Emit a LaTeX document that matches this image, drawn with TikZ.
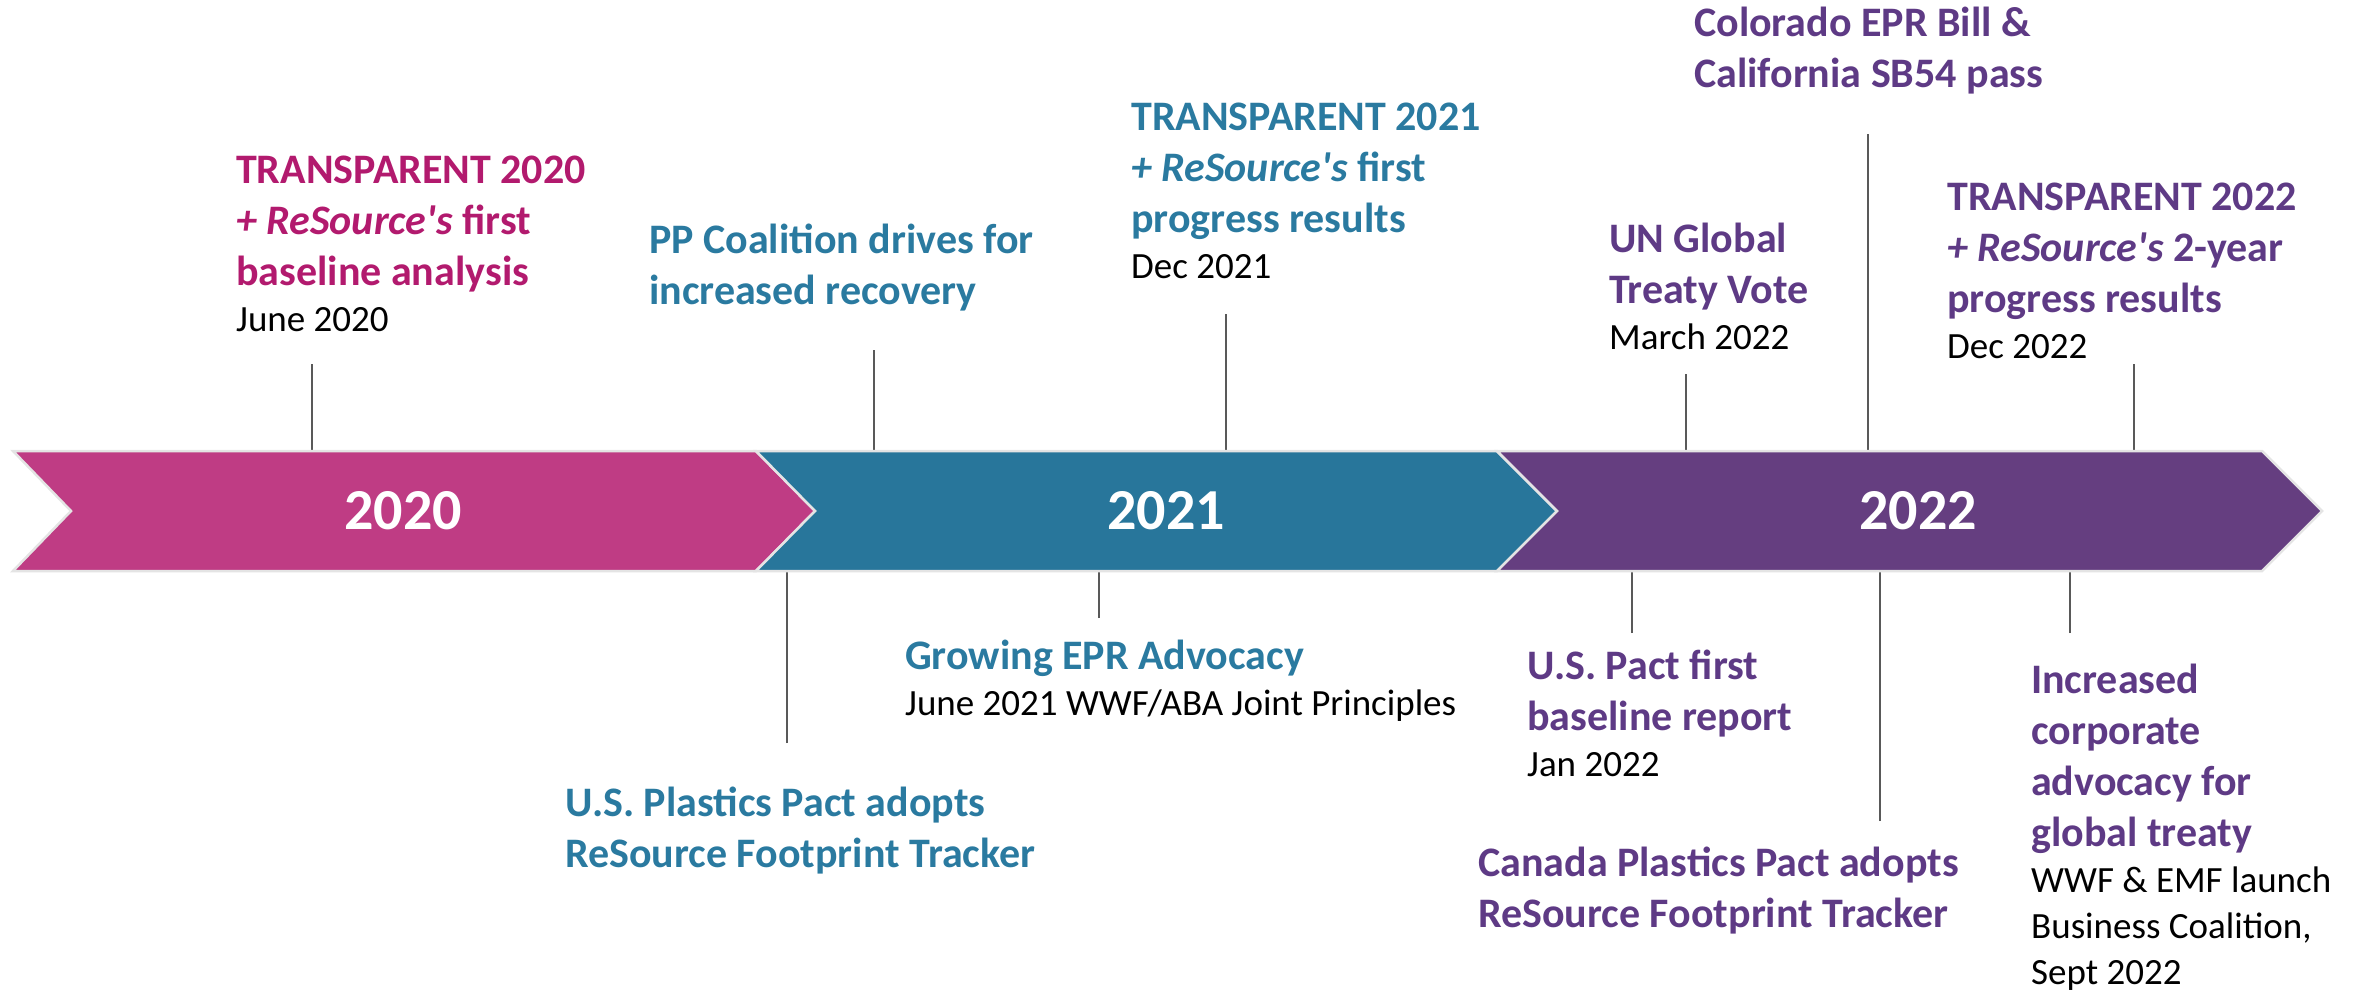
\documentclass[tikz,border=0pt]{standalone}
\usepackage{fontspec}
\setmainfont{Carlito}[Ligatures=TeXOff]
\definecolor{pinkC}{RGB}{191,60,132}
\definecolor{tealC}{RGB}{40,118,155}
\definecolor{purpC}{RGB}{101,62,128}
\definecolor{pinkT}{RGB}{178,26,110}
\definecolor{tealT}{RGB}{42,122,160}
\definecolor{purpT}{RGB}{94,58,133}
\definecolor{outl}{RGB}{228,228,228}
\definecolor{tickc}{RGB}{89,89,89}
\newcommand\datefont{\mdseries\upshape\fontsize{37}{46}\selectfont}
\newcommand\Ln[1]{\hbox{#1}}
\newcommand\Dt[1]{\datefont\hbox{\color{black}#1}}
\begin{document}
\begin{tikzpicture}[x=1pt,y=-1pt,
  evt/.style={anchor=base west, inner sep=0pt, font=\bfseries\fontsize{42}{51}\selectfont},
  yearlbl/.style={text=white, inner sep=0pt, font=\bfseries\fontsize{58}{70}\selectfont},
  chev/.style={draw=outl, line width=2.5pt, line join=miter},
  tick/.style={draw=tickc, line width=1.6pt}]
\useasboundingbox (0,0) rectangle (2361,994);

% tick coordinates
\coordinate (a1) at (312,364);  \coordinate (b1) at (312,452);
\coordinate (a2) at (874,350);  \coordinate (b2) at (874,452);
\coordinate (a3) at (1226,314); \coordinate (b3) at (1226,452);
\coordinate (a4) at (1868,134); \coordinate (b4) at (1868,452);
\coordinate (a5) at (1686,374); \coordinate (b5) at (1686,452);
\coordinate (a6) at (2134,364); \coordinate (b6) at (2134,452);
\coordinate (a7) at (787,743);  \coordinate (b7) at (787,571);
\coordinate (a8) at (1099,618); \coordinate (b8) at (1099,571);
\coordinate (a9) at (1632,633); \coordinate (b9) at (1632,571);
\coordinate (a10) at (1880,821); \coordinate (b10) at (1880,571);
\coordinate (a11) at (2070,633); \coordinate (b11) at (2070,571);
\foreach \i in {1,...,11} {\draw[tick] (a\i) -- (b\i);}

% chevrons
\path[chev, fill=pinkC] (13,451) -- (756,451) -- (815,511) -- (756,571) -- (13,571) -- (71,511) -- cycle;
\path[chev, fill=tealC] (756,451) -- (1497,451) -- (1557,511) -- (1497,571) -- (756,571) -- (815,511) -- cycle;
\path[chev, fill=purpC] (1497,451) -- (2262,451) -- (2322,511) -- (2262,571) -- (1497,571) -- (1557,511) -- cycle;

\node[yearlbl] (y2020) at (403,511) {2020};
\node[yearlbl] (y2021) at (1166,511) {2021};
\node[yearlbl] (y2022) at (1918,511) {2022};

% events above
\node[evt, text=pinkT] (e1) at (236,183) {\vtop{\Ln{TRANSPARENT 2020}\Ln{\textit{+ ReSource's} first}\Ln{baseline analysis}\Dt{June 2020}}};
\node[evt, text=tealT] (e2) at (649,253) {\vtop{\Ln{PP Coalition drives for}\Ln{increased recovery}}};
\node[evt, text=tealT] (e3) at (1131,130) {\vtop{\Ln{TRANSPARENT 2021}\Ln{\textit{+ ReSource's} first}\Ln{progress results}\Dt{Dec 2021}}};
\node[evt, text=purpT] (e4) at (1694,36) {\vtop{\Ln{Colorado EPR Bill \&}\Ln{California SB54 pass}}};
\node[evt, text=purpT] (e5) at (1609,252) {\vtop{\Ln{UN Global}\Ln{Treaty Vote}\Dt{March 2022}}};
\node[evt, text=purpT] (e6) at (1947,210) {\vtop{\Ln{TRANSPARENT 2022}\Ln{\textit{+ ReSource's} 2-year}\Ln{progress results}\Dt{Dec 2022}}};

% events below
\node[evt, text=tealT] (e7) at (565,816) {\vtop{\Ln{U.S. Plastics Pact adopts}\Ln{ReSource Footprint Tracker}}};
\node[evt, text=tealT] (e8) at (905,669) {\vtop{\Ln{Growing EPR Advocacy}\Dt{June 2021 WWF/ABA Joint Principles}}};
\node[evt, text=purpT] (e9) at (1527,679) {\vtop{\Ln{U.S. Pact first}\Ln{baseline report}\Dt{Jan 2022}}};
\node[evt, text=purpT] (e10) at (1478,876) {\vtop{\Ln{Canada Plastics Pact adopts}\Ln{ReSource Footprint Tracker}}};
\node[evt, text=purpT] (e11) at (2031,693) {\vtop{\Ln{Increased}\Ln{corporate}\Ln{advocacy for}\Ln{global treaty}\Dt{WWF \& EMF launch}\Dt{Business Coalition,}\Dt{Sept 2022}}};
\end{tikzpicture}
\end{document}
